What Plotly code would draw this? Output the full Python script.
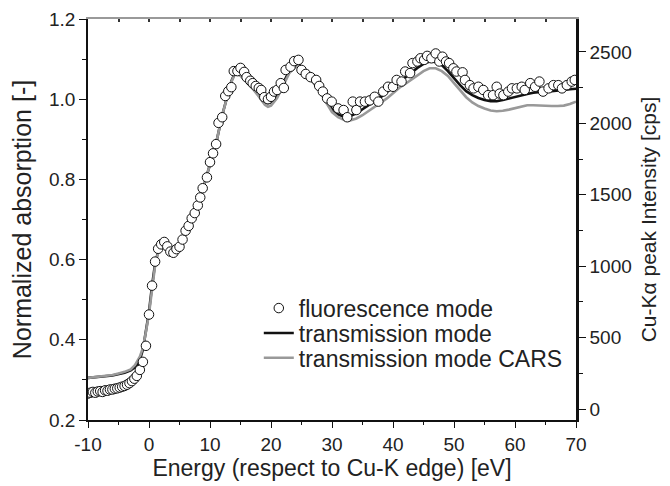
import plotly.graph_objects as go

# ---- data ----
fluo_E = [-10.0, -9.6, -9.2, -8.8, -8.4, -8.0, -7.6, -7.2, -6.8, -6.4, -6.0, -5.6, -5.2, -4.8, -4.4,
          -4.0, -3.6, -3.2, -2.8, -2.4, -2.0, -1.5, -1.0, -0.5, 0.0, 0.5, 1.0, 1.5, 2.0, 2.5,
          3.0, 3.5, 4.0, 4.5, 5.0, 5.5, 6.0, 6.5, 7.0, 7.5, 8.0, 8.4, 8.8, 9.5, 10.0,
          10.5, 11.0, 11.4, 12.0, 12.5, 13.0, 13.5, 13.9, 14.5, 15.0, 15.6, 16.0, 16.6, 17.0,
          17.5, 18.0, 18.4, 18.9, 19.5, 20.0, 20.5, 21.0, 21.6, 22.1, 22.4, 23.2, 23.8, 24.5,
          25.0, 25.7, 26.5, 27.4, 27.9, 28.5, 29.2, 29.95, 31.0, 31.9, 32.5, 33.4, 34.0, 34.6,
          35.4, 36.2, 37.0, 37.6, 38.4, 39.2, 40.0, 40.6, 41.4, 42.0, 42.8, 43.2, 44.0, 44.5,
          45.1, 45.6, 46.3, 47.0, 47.6, 48.1, 48.7, 49.2, 49.9, 50.4, 51.4, 51.8, 52.6, 53.2,
          54.0, 54.8, 55.6, 56.4, 57.0, 57.5, 58.1, 58.9, 59.5, 60.3, 61.1, 61.6, 62.5, 63.3,
          64.0, 64.6, 65.5, 66.3, 67.1, 67.7, 68.5, 69.3, 69.8]
fluo_mu = [0.266, 0.268, 0.270, 0.268, 0.271, 0.272, 0.270, 0.274, 0.273, 0.276, 0.276, 0.278, 0.279, 0.281, 0.283,
           0.285, 0.288, 0.292, 0.297, 0.303, 0.310, 0.325, 0.345, 0.385, 0.463, 0.535, 0.595, 0.627, 0.638, 0.644,
           0.633, 0.620, 0.617, 0.626, 0.632, 0.650, 0.672, 0.684, 0.703, 0.716, 0.735, 0.755, 0.778, 0.805, 0.843,
           0.865, 0.888, 0.941, 0.955, 1.008, 1.020, 1.030, 1.070, 1.070, 1.078, 1.068, 1.055, 1.046, 1.040,
           1.033, 1.028, 1.023, 1.005, 1.000, 1.006, 1.019, 1.023, 1.040, 1.028, 1.073, 1.081, 1.095, 1.098,
           1.073, 1.063, 1.055, 1.048, 1.033, 1.019, 1.002, 0.994, 0.977, 0.973, 0.955, 0.994, 0.973, 0.994,
           0.994, 0.997, 1.006, 0.994, 1.019, 1.031, 1.031, 1.048, 1.044, 1.069, 1.065, 1.090, 1.094, 1.102,
           1.098, 1.108, 1.102, 1.114, 1.094, 1.106, 1.094, 1.090, 1.077, 1.069, 1.067, 1.048, 1.035, 1.027,
           1.031, 1.023, 1.010, 1.010, 1.031, 1.014, 1.010, 1.019, 1.027, 1.027, 1.031, 1.023, 1.040, 1.031,
           1.044, 1.019, 1.027, 1.035, 1.035, 1.027, 1.035, 1.044, 1.048]

trans_E = [-10, -6, -4, -3, -2, -1.5, -1, -0.5, 0, 0.5, 1, 1.5, 2, 2.5, 3, 3.5, 4, 4.5, 5, 6, 7, 8, 9,
           10, 11, 12, 13, 13.5, 14, 14.5, 15, 16, 17, 18, 19, 19.5, 20, 21, 22, 23, 24, 24.5, 25,
           26, 27, 28, 29, 30, 31, 32, 33, 34, 35, 36, 37, 38, 39, 40, 41, 42, 43, 44, 45, 46, 47,
           48, 49, 50, 51, 52, 53, 54, 55, 56, 57, 58, 59, 60, 61, 62, 63, 64, 65, 66, 67, 68, 69, 70]
trans_mu = [0.305, 0.311, 0.318, 0.324, 0.335, 0.350, 0.375, 0.420, 0.470, 0.535, 0.590, 0.620, 0.635,
            0.640, 0.632, 0.622, 0.620, 0.625, 0.635, 0.668, 0.700, 0.735, 0.785, 0.840, 0.890, 0.960,
            1.020, 1.045, 1.062, 1.065, 1.060, 1.045, 1.030, 1.012, 0.993, 0.990, 0.992, 1.010, 1.040,
            1.070, 1.085, 1.088, 1.080, 1.060, 1.045, 1.025, 1.000, 0.975, 0.962, 0.956, 0.958, 0.965,
            0.975, 0.985, 0.995, 1.005, 1.018, 1.030, 1.042, 1.055, 1.066, 1.078, 1.088, 1.094, 1.093,
            1.085, 1.070, 1.052, 1.035, 1.020, 1.010, 1.003, 0.998, 0.995, 0.995, 0.998, 1.002, 1.006,
            1.010, 1.013, 1.016, 1.018, 1.019, 1.020, 1.022, 1.023, 1.025, 1.026]

cars_E = [-10, -8, -6, -5, -4, -3, -2.3, -1.5, -1, -0.5, 0, 0.5, 1, 1.5, 2, 2.5, 3, 3.5, 4, 4.5, 5, 6,
          7, 8, 9, 10, 11, 12, 13, 13.5, 14, 14.5, 15, 16, 17, 18, 19, 19.5, 20, 21, 22, 23, 24, 24.5,
          25, 26, 27, 28, 29, 30, 31, 32, 33, 34, 35, 36, 37, 38, 39, 40, 41, 42, 43, 44, 45, 46, 47,
          48, 49, 50, 51, 52, 53, 54, 55, 56, 57, 58, 59, 60, 61, 62, 63, 64, 65, 66, 67, 68, 69, 70]
cars_mu = [0.305, 0.308, 0.312, 0.316, 0.320, 0.326, 0.337, 0.358, 0.380, 0.420, 0.465, 0.525, 0.585,
           0.618, 0.632, 0.638, 0.632, 0.622, 0.620, 0.625, 0.635, 0.668, 0.700, 0.735, 0.785, 0.840,
           0.890, 0.960, 1.020, 1.043, 1.060, 1.063, 1.058, 1.042, 1.026, 1.007, 0.986, 0.981, 0.984,
           1.003, 1.035, 1.065, 1.080, 1.083, 1.075, 1.055, 1.040, 1.020, 0.993, 0.968, 0.955, 0.948,
           0.947, 0.952, 0.960, 0.970, 0.980, 0.990, 1.002, 1.015, 1.028, 1.038, 1.048, 1.060, 1.070,
           1.077, 1.077, 1.070, 1.058, 1.040, 1.022, 1.005, 0.992, 0.983, 0.977, 0.972, 0.970, 0.971,
           0.974, 0.978, 0.982, 0.985, 0.985, 0.984, 0.983, 0.983, 0.983, 0.984, 0.988, 0.994]

x_tickvals = [-10, 0, 10, 20, 30, 40, 50, 60, 70]
x_ticktext = ["-10", "0", "10", "20", "30", "40", "50", "60", "70"]
x_range = [-10, 70]
y_range = [0.2, 1.2]
y2_range = [-77, 2731]

FONT = "Liberation Sans, Arial, sans-serif"
BLACK = "#111111"
TXT = "#222222"

fig = go.Figure()
fig.add_trace(go.Scatter(x=trans_E, y=trans_mu, mode="lines", name="transmission mode",
                         line=dict(color=BLACK, width=2.6), legend="legend2"))
fig.add_trace(go.Scatter(x=cars_E, y=cars_mu, mode="lines", name="transmission mode CARS",
                         line=dict(color="#999999", width=2.6), legend="legend3"))
fig.add_trace(go.Scatter(x=fluo_E, y=fluo_mu, mode="markers", name="fluorescence mode",
                         marker=dict(symbol="circle", size=9.5, color="white",
                                     line=dict(color=BLACK, width=1)), legend="legend"))
# empty traces so that the right and top axes are drawn
fig.add_trace(go.Scatter(x=[None], y=[None], yaxis="y2", showlegend=False, hoverinfo="skip"))
fig.add_trace(go.Scatter(x=[None], y=[None], xaxis="x2", showlegend=False, hoverinfo="skip"))

leg_common = dict(x=0.35, xanchor="left", yanchor="middle", bgcolor="rgba(0,0,0,0)",
                  font=dict(size=23, family=FONT, color=TXT), itemwidth=30, borderwidth=0)

fig.update_layout(
    width=662, height=478,
    margin=dict(l=80, r=94, t=11, b=66, autoexpand=False),
    paper_bgcolor="white", plot_bgcolor="white",
    font=dict(family=FONT, color=TXT, size=19),
    showlegend=True,
    legend=dict(y=0.279, **leg_common),
    legend2=dict(y=0.217, **leg_common),
    legend3=dict(y=0.155, **leg_common),
    xaxis=dict(range=x_range, tickvals=x_tickvals, ticktext=x_ticktext, ticks="outside", ticklen=6,
               tickwidth=1.3, tickcolor=BLACK, showline=True, linecolor=BLACK, linewidth=1.5,
               showgrid=False, zeroline=False, automargin=False,
               minor=dict(dtick=5, tick0=0, ticks="outside", ticklen=3, tickcolor=BLACK, tickwidth=1.3),
               title=dict(text="Energy (respect to Cu-K edge) [eV]", font=dict(size=23), standoff=4),
               tickfont=dict(size=19)),
    xaxis2=dict(range=x_range, overlaying="x", side="top", dtick=5, tick0=0, ticks="inside",
                ticklen=3, tickwidth=1.5, tickcolor="#333333", showline=True, linecolor="#999999",
                linewidth=1.5, showticklabels=False, showgrid=False, zeroline=False, automargin=False),
    yaxis=dict(range=y_range, dtick=0.2, tick0=0.2, tickformat=".1f", ticks="outside", ticklen=7,
               tickwidth=1.3, tickcolor=BLACK, showline=True, linecolor=BLACK, linewidth=1.5,
               showgrid=False, zeroline=False, automargin=False,
               minor=dict(dtick=0.1, ticks="outside", ticklen=4, tickcolor=BLACK, tickwidth=1.3),
               title=dict(text="Normalized absorption [-]", font=dict(size=25), standoff=10),
               tickfont=dict(size=19)),
    yaxis2=dict(range=y2_range, overlaying="y", side="right", dtick=500, tick0=0, ticks="outside",
                ticklen=7, tickwidth=1.3, tickcolor=BLACK, showline=True, linecolor=BLACK,
                linewidth=2.5, showgrid=False, zeroline=False, automargin=False,
                minor=dict(dtick=250, ticks="outside", ticklen=4, tickcolor=BLACK, tickwidth=1.3),
                title=dict(text="Cu-Kα peak Intensity [cps]", font=dict(size=21), standoff=11),
                tickfont=dict(size=19)),
)

fig.write_html("out.html")
